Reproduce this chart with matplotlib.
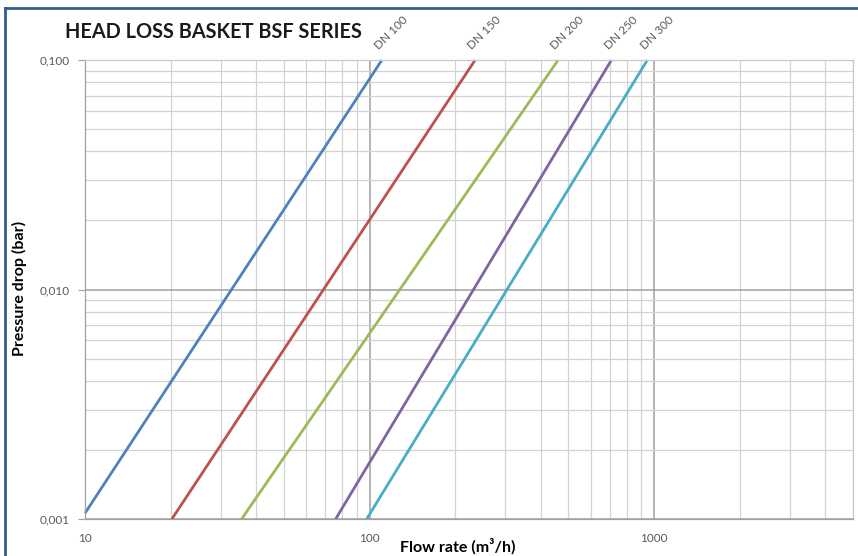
import matplotlib
matplotlib.use("Agg")
import matplotlib.pyplot as plt
from matplotlib.lines import Line2D
from matplotlib.ticker import FixedLocator, FixedFormatter, LogLocator, NullFormatter

plt.rcParams['font.family'] = ['Lato', 'DejaVu Sans']

# Data: two end points of each straight log-log line
series_names = ["DN 100", "DN 150", "DN 200", "DN 250", "DN 300"]
flow_start = [10.0, 20.2, 35.5, 76.0, 97.7]
dp_start = [0.00106, 0.001, 0.001, 0.001, 0.001]
flow_end = [110.5, 235.0, 460.0, 708.0, 947.0]
dp_end = [0.1, 0.1, 0.1, 0.1, 0.1]
colors = ["#4F81BD", "#C0504D", "#9BBB59", "#8064A2", "#4BACC6"]

x_ticks = [10, 100, 1000]
x_tick_labels = ["10", "100", "1000"]
y_ticks = [0.001, 0.01, 0.1]
y_tick_labels = ["0,001", "0,010", "0,100"]

W, H = 858, 556
fig = plt.figure(figsize=(W / 100, H / 100), dpi=100)
fig.patch.set_facecolor("white")
ax = fig.add_axes([85 / W, 1 - 519 / H, (853 - 85) / W, (519 - 60) / H])
ax.set_xscale("log")
ax.set_yscale("log")
ax.set_xlim(10, 5000)
ax.set_ylim(0.001, 0.1)

ax.xaxis.set_major_locator(FixedLocator(x_ticks))
ax.xaxis.set_major_formatter(FixedFormatter(x_tick_labels))
ax.yaxis.set_major_locator(FixedLocator(y_ticks))
ax.yaxis.set_major_formatter(FixedFormatter(y_tick_labels))
ax.xaxis.set_minor_locator(LogLocator(base=10, subs=range(2, 10)))
ax.yaxis.set_minor_locator(LogLocator(base=10, subs=range(2, 10)))
ax.xaxis.set_minor_formatter(NullFormatter())
ax.yaxis.set_minor_formatter(NullFormatter())

ax.grid(True, which="major", color="#A0A0A0", linewidth=1.1)
ax.grid(True, which="minor", color="#D3D3D3", linewidth=0.9)
ax.set_axisbelow(True)
for s in ax.spines.values():
    s.set_color("#C8C8C8")
    s.set_linewidth(0.9)
ax.spines["left"].set_color("#A0A0A0")
ax.spines["bottom"].set_color("#A0A0A0")

ax.tick_params(axis="y", which="major", length=5, color="#A0A0A0", pad=6,
               labelsize=8.5, labelcolor="#595959")
ax.tick_params(axis="x", which="major", length=0, pad=10,
               labelsize=8.5, labelcolor="#595959")
ax.tick_params(which="minor", length=0)

for name, x0, y0, x1, y1, c in zip(series_names, flow_start, dp_start, flow_end, dp_end, colors):
    ax.plot([x0, x1], [y0, y1], color=c, linewidth=2.0, solid_capstyle="butt", clip_on=False)
    ax.annotate(name, xy=(x1, y1), xytext=(-1, 6), textcoords="offset points",
                rotation=45, rotation_mode="anchor", ha="left", va="bottom",
                fontsize=8.5, color="#595959", annotation_clip=False)

ax.set_xlabel("Flow rate (m³/h)", fontsize=11.5, fontweight="bold")
ax.set_ylabel("Pressure drop (bar)", fontsize=11.5, fontweight="bold")
ax.xaxis.label.set_va("center")
ax.yaxis.label.set_va("center")
ax.xaxis.set_label_coords((458 - 85) / (853 - 85), -(546 - 519) / (519 - 60))
ax.yaxis.set_label_coords(-(85 - 19) / (853 - 85), (519 - 288) / (519 - 60))

fig.text(65 / W, 1 - 32 / H, "HEAD LOSS BASKET BSF SERIES", fontsize=14.3,
         fontweight="bold", color="#1A1A1A", ha="left", va="center")

# blue frame
fig.add_artist(Line2D([5 / W, 5 / W], [0, 1 - 8 / H], transform=fig.transFigure,
                      color="#2F5F8F", linewidth=2))
fig.add_artist(Line2D([5 / W, 1], [1 - 8 / H, 1 - 8 / H], transform=fig.transFigure,
                      color="#2F5F8F", linewidth=2))

fig.savefig("out.png", dpi=100)
